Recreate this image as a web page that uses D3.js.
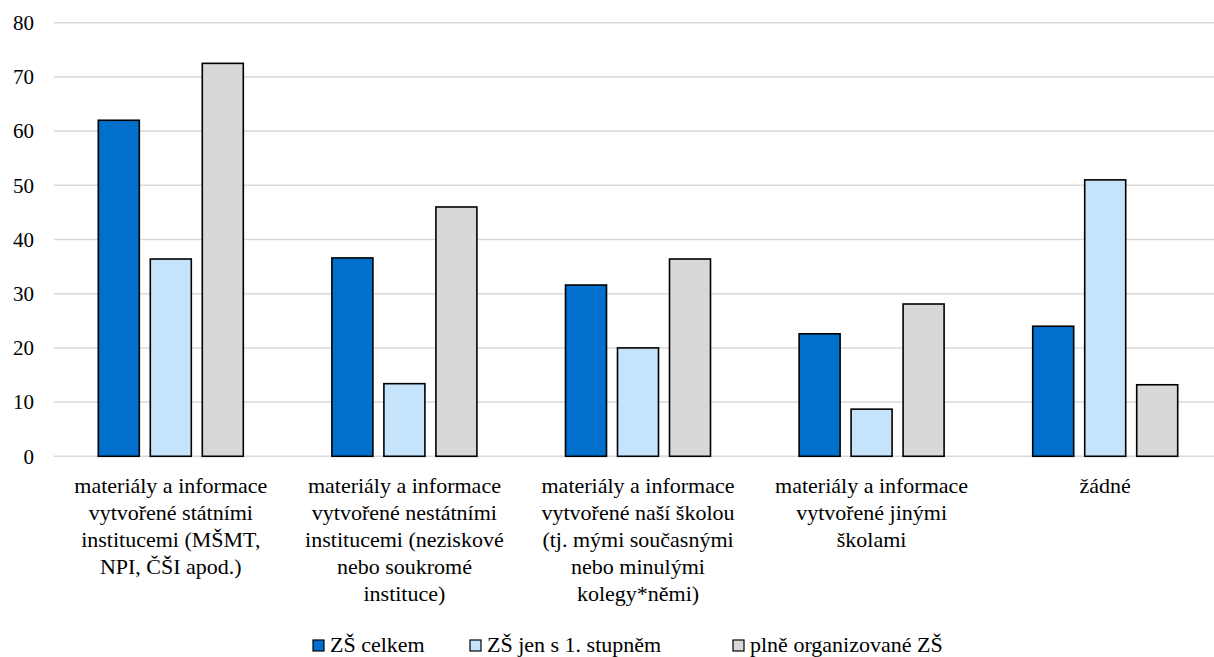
<!DOCTYPE html>
<html>
<head>
<meta charset="utf-8">
<script src="https://cdn.jsdelivr.net/npm/d3@7"></script>
<style>
  html, body { margin: 0; padding: 0; background: #fff; }
</style>
</head>
<body>
<svg id="chart" width="1214" height="657"></svg>
<script>
// Categories (each label split into its display lines)
const categories = [
  ["materiály a informace", "vytvořené státními", "institucemi (MŠMT,", "NPI, ČŠI apod.)"],
  ["materiály a informace", "vytvořené nestátními", "institucemi (neziskové", "nebo soukromé", "instituce)"],
  ["materiály a informace", "vytvořené naší školou", "(tj. mými současnými", "nebo minulými", "kolegy*němi)"],
  ["materiály a informace", "vytvořené jinými", "školami"],
  ["žádné"]
];
const seriesNames = ["ZŠ celkem", "ZŠ jen s 1. stupněm", "plně organizované ZŠ"];
const zsCelkem      = [62.0, 36.6, 31.6, 22.6, 24.0];
const zsPrvniStupen = [36.4, 13.4, 20.0, 8.7, 51.0];
const plneOrg       = [72.5, 46.0, 36.4, 28.1, 13.2];
const seriesColors  = ["#0070CC", "#C5E3FB", "#D9D7D8"];
const yTicks = [0, 10, 20, 30, 40, 50, 60, 70, 80];

const FONT = "'Liberation Serif', 'Times New Roman', 'Liberation Sans', sans-serif";
const seriesValues = [zsCelkem, zsPrvniStupen, plneOrg];
const svg = d3.select("#chart").attr("font-family", FONT);

const x0 = d3.scaleBand().domain(d3.range(categories.length)).range([54, 1222]).padding(0);
const x1 = d3.scaleBand().domain(d3.range(seriesNames.length)).range([-72.5, 72.5])
  .paddingInner(11 / 52).paddingOuter(0);
const y = d3.scaleLinear().domain([0, 80]).range([456.3, 22.7]);

// gridlines
svg.append("g").selectAll("line").data(yTicks).join("line")
  .attr("x1", 54).attr("x2", 1214)
  .attr("y1", d => y(d)).attr("y2", d => y(d))
  .attr("stroke", "#D9D9D9").attr("stroke-width", 1.5);

// y tick labels
svg.append("g").selectAll("text").data(yTicks).join("text")
  .attr("x", 34).attr("y", d => y(d)).attr("dy", "0.35em")
  .attr("text-anchor", "end").attr("font-size", 21)
  .text(d => d);

// bars
const groups = svg.append("g").selectAll("g").data(categories).join("g")
  .attr("transform", (d, i) => `translate(${x0(i) + x0.bandwidth() / 2},0)`);
groups.selectAll("rect")
  .data((d, i) => seriesValues.map((vals, s) => ({ s, v: vals[i] })))
  .join("rect")
  .attr("x", d => x1(d.s)).attr("width", x1.bandwidth())
  .attr("y", d => y(d.v)).attr("height", d => y(0) - y(d.v))
  .attr("fill", d => seriesColors[d.s])
  .attr("stroke", "#000").attr("stroke-width", 1.6);

// category labels
groups.append("text")
  .attr("text-anchor", "middle").attr("font-size", 22)
  .selectAll("tspan").data(d => d).join("tspan")
  .attr("x", 0).attr("y", (d, j) => 493 + j * 27)
  .text(d => d);

// legend
const legendX = [313, 470, 733];
const legend = svg.append("g").selectAll("g").data(seriesNames).join("g")
  .attr("transform", (d, i) => `translate(${legendX[i]},640)`);
legend.append("rect").attr("width", 11).attr("height", 11)
  .attr("fill", (d, i) => seriesColors[i]).attr("stroke", "#000").attr("stroke-width", 1.2);
legend.append("text")
  .attr("x", 17).attr("y", 12).attr("font-size", 22).text(d => d);
</script>
</body>
</html>
